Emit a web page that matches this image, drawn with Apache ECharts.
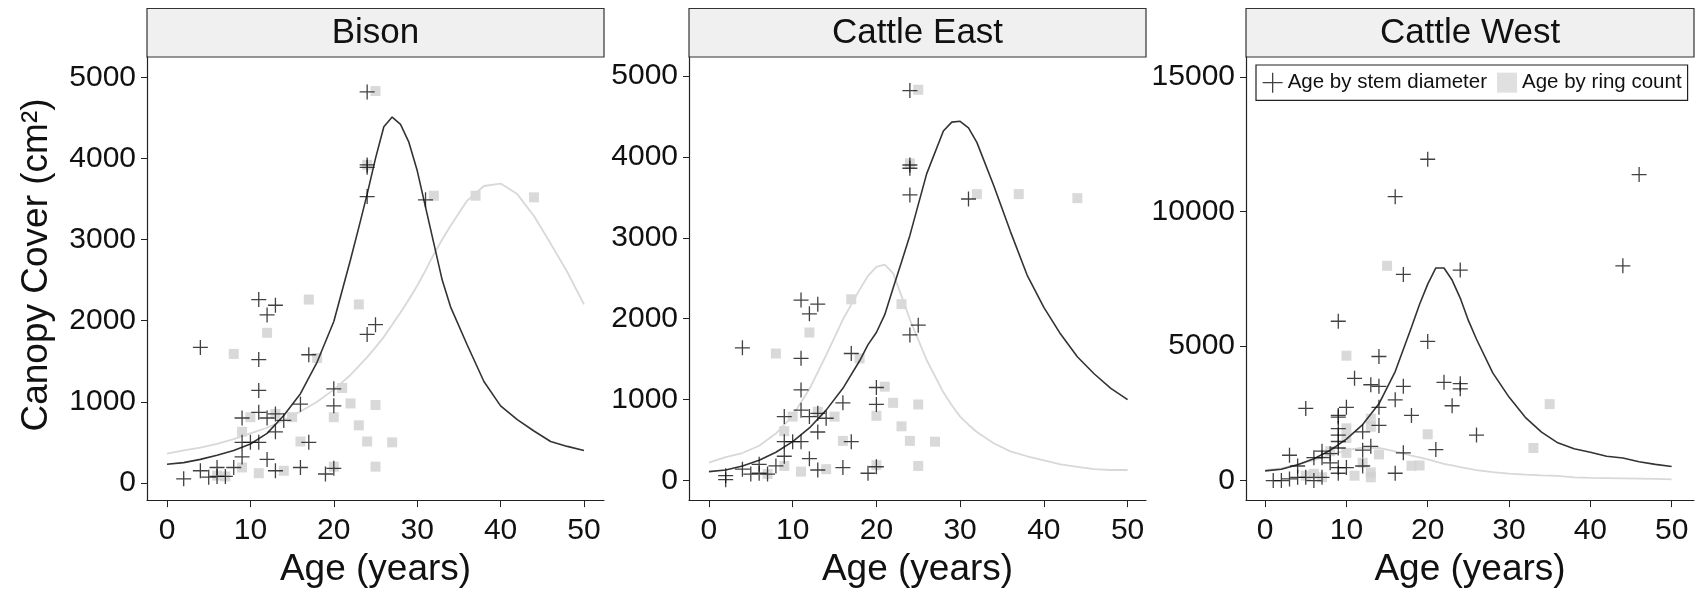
<!DOCTYPE html>
<html lang="en">
<head>
<meta charset="UTF-8" />
<title>Canopy cover by age</title>
</head>
<body>
<style>
* { margin: 0; padding: 0; }
#chartEl { width: 1696px; height: 593px; background: #fff; }
</style>
<div id="chartEl"></div>
<script src="https://cdn.jsdelivr.net/npm/echarts@6/dist/echarts.min.js"></script>
<script>
// panel titles
const panelNames = ['Bison', 'Cattle East', 'Cattle West'];
const xTicks = [0, 10, 20, 30, 40, 50];
const yTicksSmall = [0, 1000, 2000, 3000, 4000, 5000];
const yTicksLarge = [0, 5000, 10000, 15000];

// Bison: points [age, cover]
const bisonStem = [[2,50],[4,150],[4,1670],[5,70],[6,190],[6,80],[7,80],[8,190],[9,800],[9,500],[9,320],[10,500],
  [11,2260],[11,1520],[11,1140],[11,870],[11,500],[12,2070],[12,290],[12,800],[13,2190],[13,850],[13,630],[13,150],
  [14,770],[16,970],[16,190],[17,1580],[17,500],[19,110],[20,1160],[20,950],[20,180],[24,1830],[25,1950],
  [24,4820],[24,3920],[24,3890],[24,3530],[31,3490]];
const bisonRing = [[6,90],[7,80],[8,1590],[9,630],[9,190],[10,810],[11,120],[12,1850],[13,850],[14,150],[15,810],
  [16,510],[17,2260],[18,1540],[20,810],[20,200],[21,1170],[22,980],[23,2200],[23,710],[24,510],[25,960],[25,200],
  [27,500],[25,4830],[24,3920],[32,3540],[37,3540],[44,3520]];
const bisonFitAge = [0,2,4,6,8,10,12,14,16,18,20,22,23,24,25,26,27,28,29,30,31,32,33,34,36,38,40,42,44,46,48,50];
const bisonStemFit = [230,250,290,340,400,480,610,830,1100,1490,1990,2750,3150,3560,4000,4390,4510,4420,4200,3850,
  3400,2950,2500,2170,1700,1250,950,780,640,510,450,400];
const bisonRingFit = [360,400,435,480,540,610,680,770,880,1000,1150,1330,1440,1550,1670,1800,1950,2100,2260,2430,
  2620,2820,3000,3170,3480,3660,3690,3560,3290,2950,2600,2200];

// Cattle East
const eastStem = [[2,60],[2,10],[4,1640],[4,140],[5,80],[6,200],[6,90],[7,80],[8,180],[9,790],[9,480],[9,300],[10,480],
  [11,480],[11,2230],[11,1510],[11,1120],[11,870],[12,2060],[12,270],[12,790],[13,2180],[13,830],[13,600],[13,130],
  [14,770],[16,960],[16,160],[17,1570],[17,480],[19,90],[20,170],[20,1150],[20,940],[24,1800],[25,1920],
  [24,4820],[24,3900],[24,3860],[24,3530],[31,3480]];
const eastRing = [[7,80],[8,1570],[9,610],[9,180],[10,790],[11,110],[12,1830],[13,850],[14,140],[15,790],[16,490],
  [17,2240],[18,1510],[20,800],[20,190],[21,1160],[22,960],[23,2180],[23,670],[24,490],[25,940],[25,180],[27,480],
  [25,4830],[24,3920],[32,3540],[37,3540],[44,3490]];
const eastFitAge = [0,2,4,6,8,10,12,14,16,18,19,20,21,22,23,24,26,28,29,30,31,32,34,36,38,40,42,44,46,48,50];
const eastStemFit = [110,130,180,250,350,480,650,870,1140,1480,1680,1830,2050,2380,2700,3030,3790,4320,4430,4440,
  4360,4180,3650,3080,2540,2140,1810,1530,1320,1140,1000];
const eastRingFit = [220,290,340,430,580,800,1130,1550,1990,2360,2530,2640,2670,2560,2280,1990,1490,1090,930,790,
  690,600,460,360,300,250,200,170,140,130,130];

// Cattle West
const westStem = [[1,0],[2,0],[3,60],[3,940],[4,540],[4,120],[5,2680],[5,120],[6,0],[6,850],[7,1090],[7,850],[7,120],
  [8,660],[8,1000],[9,5920],[9,2420],[9,2360],[9,1930],[9,1690],[9,1450],[9,1210],[9,480],[9,270],[10,2720],[10,480],
  [11,3800],[12,1810],[12,540],[12,1130],[13,1270],[13,3560],[14,4610],[14,3500],[14,2720],[14,2050],[16,3000],
  [16,270],[17,3500],[17,1030],[18,2420],[20,5170],[21,1150],[22,3650],[23,2780],[24,3600],[24,3410],[26,1690],
  [16,10550],[20,11940],[46,11370],[44,7980],[17,7660],[24,7820]];
const westRing = [[15,7980],[10,4640],[20,1720],[18,550],[19,560],[33,1210],[35,2840],[13,2300],[10,1940],[10,1580],
  [14,970],[11,180],[13,300],[13,120],[8,1090],[5,180],[7,120],[12,660],[10,1030],[13,2000],[6,250]];
const westFitAge = [0,2,4,6,8,10,12,14,16,18,19,20,21,22,23,24,25,26,28,30,32,34,36,38,40,42,44,46,48,50];
const westStemFit = [360,420,590,810,1120,1540,2080,2850,4050,5700,6550,7300,7900,7900,7450,6780,5950,5250,4000,
  3100,2350,1800,1400,1180,1050,900,840,700,600,520];
const westRingFit = [390,450,600,760,950,1130,1220,1210,1080,930,860,790,700,620,560,500,440,390,310,260,220,190,
  170,120,100,90,80,70,60,40];

const FONT = 'Liberation Sans';
const plusPath = 'path://M0,8 L16,8 M8,0 L8,16';

const grids = [
  { left: 147, top: 57, width: 457, height: 455 },
  { left: 689, top: 57, width: 457, height: 453 },
  { left: 1246, top: 57, width: 448, height: 453 }
];
const xRanges = [[-2.4, 52.4], [-2.38, 52.2], [-2.35, 52.75]];
const yRanges = [[-212, 5250], [-242, 5235], [-727, 15740]];
const yTickSets = [yTicksSmall, yTicksSmall, yTicksLarge];

const panels = [
  { stem: bisonStem, ring: bisonRing, fitAge: bisonFitAge, stemFit: bisonStemFit, ringFit: bisonRingFit },
  { stem: eastStem, ring: eastRing, fitAge: eastFitAge, stemFit: eastStemFit, ringFit: eastRingFit },
  { stem: westStem, ring: westRing, fitAge: westFitAge, stemFit: westStemFit, ringFit: westRingFit }
];

function zip(a, b) {
  return a.map((v, i) => [v, b[i]]);
}

const plain = v => String(v);

const xAxes = grids.map((g, i) => ({
  type: 'value',
  gridIndex: i,
  min: xRanges[i][0],
  max: xRanges[i][1],
  name: 'Age (years)',
  nameLocation: 'middle',
  nameGap: 37,
  nameTextStyle: { fontFamily: FONT, fontSize: 37, color: '#111' },
  axisLine: { onZero: false, lineStyle: { color: '#222', width: 1.2 } },
  axisTick: { customValues: xTicks, length: 7, lineStyle: { color: '#222' } },
  axisLabel: { customValues: xTicks, margin: 16, fontFamily: FONT, fontSize: 30, color: '#111', formatter: plain },
  splitLine: { show: false }
}));

const yAxes = grids.map((g, i) => ({
  type: 'value',
  gridIndex: i,
  min: yRanges[i][0],
  max: yRanges[i][1],
  axisLine: { show: true, onZero: false, lineStyle: { color: '#222', width: 1.2 } },
  axisTick: { show: true, customValues: yTickSets[i], length: 6, lineStyle: { color: '#222' } },
  axisLabel: { customValues: yTickSets[i], margin: 11, fontFamily: FONT, fontSize: 30, color: '#111', formatter: plain },
  splitLine: { show: false }
}));

const series = [];
panels.forEach((p, i) => {
  series.push({
    name: 'Age by ring count', type: 'scatter', xAxisIndex: i, yAxisIndex: i,
    data: p.ring, symbol: 'rect', symbolSize: 10,
    itemStyle: { color: '#d0d0d0' }, z: 2
  });
  series.push({
    name: 'Ring fit', type: 'line', xAxisIndex: i, yAxisIndex: i,
    data: zip(p.fitAge, p.ringFit), showSymbol: false,
    lineStyle: { color: '#d8d8d8', width: 1.8 }, z: 3
  });
  series.push({
    name: 'Stem fit', type: 'line', xAxisIndex: i, yAxisIndex: i,
    data: zip(p.fitAge, p.stemFit), showSymbol: false,
    lineStyle: { color: '#333', width: 1.6 }, z: 4
  });
  series.push({
    name: 'Age by stem diameter', type: 'scatter', xAxisIndex: i, yAxisIndex: i,
    data: p.stem, symbol: plusPath, symbolSize: 15,
    itemStyle: { color: 'rgba(0,0,0,0)', borderColor: '#111', borderWidth: 1.3 }, z: 5
  });
});

// strips above the panels
const graphics = [];
grids.forEach((g, i) => {
  graphics.push({
    type: 'rect',
    shape: { x: g.left, y: 8.5, width: g.width, height: 48.5 },
    style: { fill: '#f0f0f0', stroke: '#333', lineWidth: 1.2 }
  });
  graphics.push({
    type: 'text',
    x: g.left + g.width / 2, y: 33,
    style: { text: panelNames[i], fontFamily: FONT, fontSize: 35, fill: '#111', align: 'center', verticalAlign: 'middle' }
  });
});
graphics.push({
  type: 'text',
  x: 37, y: 265, rotation: Math.PI / 2,
  style: { text: 'Canopy Cover (cm²)', fontFamily: FONT, fontSize: 37, fill: '#111', align: 'center', verticalAlign: 'middle' }
});

const myChart = echarts.init(document.getElementById('chartEl'));
myChart.setOption({
  animation: false,
  backgroundColor: '#fff',
  grid: grids,
  xAxis: xAxes,
  yAxis: yAxes,
  legend: {
    left: 1256, top: 65,
    padding: [7, 6, 7, 6],
    itemGap: 10, itemWidth: 20, itemHeight: 20,
    borderColor: '#222', borderWidth: 1.2, backgroundColor: '#fff',
    selectedMode: false,
    textStyle: { fontFamily: FONT, fontSize: 20.5, color: '#111' },
    data: [
      { name: 'Age by stem diameter', icon: plusPath, itemStyle: { color: 'rgba(0,0,0,0)', borderColor: '#111', borderWidth: 1.3 } },
      { name: 'Age by ring count', icon: 'rect', itemStyle: { color: '#d8d8d8', borderWidth: 0 } }
    ]
  },
  graphic: graphics,
  series: series
});
</script>
</body>
</html>
